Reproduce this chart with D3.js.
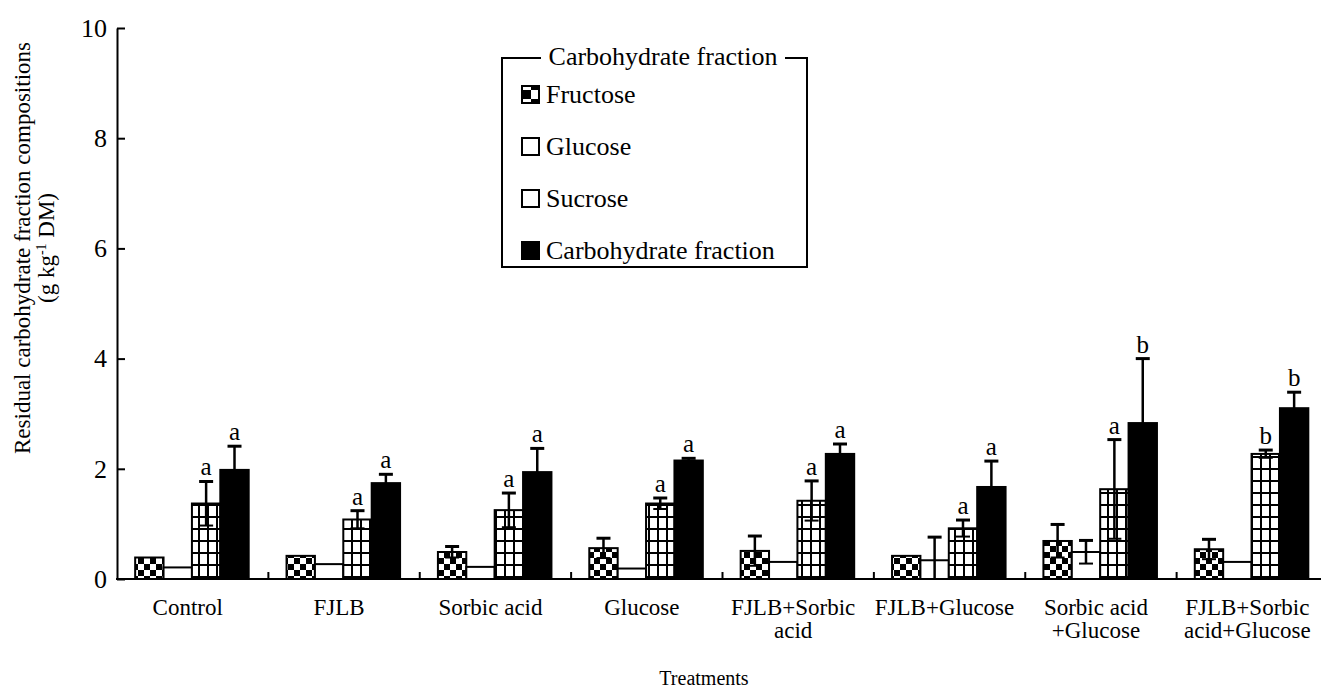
<!DOCTYPE html>
<html>
<head>
<meta charset="utf-8">
<script src="https://cdn.jsdelivr.net/npm/d3@7"></script>
<style>
  body { margin: 0; background: #fff; }
  text { font-family: "Liberation Serif", "Times New Roman", serif; fill: #000; }
</style>
</head>
<body>
<script>
const W = 1321, H = 689;
const plotLeft = 117, plotRight = 1328, plotTop = 28, plotBottom = 579;

// data
const categories = ["Control", "FJLB", "Sorbic acid", "Glucose", "FJLB+Sorbic\nacid",
  "FJLB+Glucose", "Sorbic acid\n+Glucose", "FJLB+Sorbic\nacid+Glucose"];
const seriesNames = ["Fructose", "Glucose", "Sucrose", "Carbohydrate fraction"];
const fructose = [0.39, 0.42, 0.49, 0.56, 0.51, 0.42, 0.69, 0.54];
const fructoseErr = [0, 0, 0.1, 0.18, 0.27, 0, 0.3, 0.18];
const glucose = [0.21, 0.27, 0.22, 0.19, 0.31, 0.34, 0.49, 0.31];
const glucoseErr = [0, 0, 0, 0, 0, 0.42, 0.21, 0];
const sucrose = [1.37, 1.08, 1.25, 1.37, 1.42, 0.92, 1.63, 2.27];
const sucroseErr = [0.4, 0.16, 0.31, 0.1, 0.36, 0.15, 0.9, 0.07];
const carb = [1.98, 1.74, 1.94, 2.15, 2.27, 1.67, 2.83, 3.1];
const carbErr = [0.43, 0.16, 0.43, 0.04, 0.18, 0.47, 1.17, 0.29];
const sucroseLetters = ["a", "a", "a", "a", "a", "a", "a", "b"];
const carbLetters = ["a", "a", "a", "a", "a", "a", "b", "b"];
const yTicks = [0, 2, 4, 6, 8, 10];

const values = [fructose, glucose, sucrose, carb];
const errors = [fructoseErr, glucoseErr, sucroseErr, carbErr];
const letters = [null, null, sucroseLetters, carbLetters];

var svg = d3.select("body").append("svg")
  .attr("width", W).attr("height", H);

// fill patterns
const defs = svg.append("defs");
const chk = defs.append("pattern").attr("id", "checker")
  .attr("patternUnits", "userSpaceOnUse").attr("width", 12).attr("height", 12);
chk.append("rect").attr("width", 12).attr("height", 12).attr("fill", "#fff");
chk.append("rect").attr("width", 6).attr("height", 6).attr("fill", "#000");
chk.append("rect").attr("x", 6).attr("y", 6).attr("width", 6).attr("height", 6).attr("fill", "#000");

const chkSmall = defs.append("pattern").attr("id", "checkerSmall")
  .attr("patternUnits", "userSpaceOnUse").attr("width", 18).attr("height", 18)
  .attr("x", 522).attr("y", 0);
chkSmall.append("rect").attr("width", 18).attr("height", 18).attr("fill", "#fff");
chkSmall.append("rect").attr("width", 9).attr("height", 9).attr("fill", "#000");
chkSmall.append("rect").attr("x", 9).attr("y", 9).attr("width", 9).attr("height", 9).attr("fill", "#000");

const grid = defs.append("pattern").attr("id", "grid")
  .attr("patternUnits", "userSpaceOnUse").attr("width", 9).attr("height", 12);
grid.append("rect").attr("width", 9).attr("height", 12).attr("fill", "#fff");
grid.append("line").attr("x1", 1).attr("x2", 1).attr("y1", 0).attr("y2", 12)
  .attr("stroke", "#000").attr("stroke-width", 2);
grid.append("line").attr("x1", 0).attr("x2", 9).attr("y1", 1).attr("y2", 1)
  .attr("stroke", "#000").attr("stroke-width", 2);

const fills = ["url(#checker)", "#fff", "url(#grid)", "#000"];
const legendFills = ["url(#checkerSmall)", "#fff", "#fff", "#000"];

// scales
let x = d3.scaleBand().domain(categories).range([plotLeft, plotRight]);
let xInner = d3.scaleBand().domain(d3.range(4))
  .range([x.bandwidth() * 0.12, x.bandwidth() * 0.87]);
let y = d3.scaleLinear().domain([0, 10]).range([plotBottom, plotTop]);

// bars
for (let s = 0; s < 4; s++) {
  svg.append("g").selectAll("rect")
    .data(categories)
    .enter()
    .append("rect")
    .attr("x", (d) => x(d) + xInner(s))
    .attr("y", (d, i) => y(values[s][i]))
    .attr("width", xInner.bandwidth())
    .attr("height", (d, i) => y(0) - y(values[s][i]))
    .attr("fill", fills[s])
    .attr("stroke", "#000")
    .attr("stroke-width", 2);
}

// error bars and letters
for (let s = 0; s < 4; s++) {
  const g = svg.append("g");
  categories.forEach(function (c, i) {
    const v = values[s][i], e = errors[s][i];
    const cx = x(c) + xInner(s) + xInner.bandwidth() / 2;
    let topY = y(v + e);
    if (e > 0) {
      const lo = Math.max(0, v - e);
      g.append("line").attr("x1", cx).attr("x2", cx)
        .attr("y1", topY).attr("y2", y(lo))
        .attr("stroke", "#000").attr("stroke-width", 2.5);
      g.append("line").attr("x1", cx - 7).attr("x2", cx + 7)
        .attr("y1", topY).attr("y2", topY)
        .attr("stroke", "#000").attr("stroke-width", 3);
      if (v - e > 0) {
        g.append("line").attr("x1", cx - 7).attr("x2", cx + 7)
          .attr("y1", y(lo)).attr("y2", y(lo))
          .attr("stroke", "#000").attr("stroke-width", 2);
      }
    }
    if (letters[s]) {
      g.append("text").attr("x", cx).attr("y", topY - 6)
        .attr("text-anchor", "middle").style("font-size", "25px")
        .text(letters[s][i]);
    }
  });
}

// y axis
const yAxis = svg.append("g")
  .attr("transform", "translate(" + plotLeft + ",0)")
  .call(d3.axisLeft(y).tickValues(yTicks).tickSizeInner(-8).tickSizeOuter(0).tickPadding(10));
yAxis.select(".domain").attr("stroke-width", 2);
yAxis.selectAll(".tick line").attr("stroke-width", 2);
yAxis.selectAll(".tick text").style("font-size", "26px")
  .style("font-family", "Liberation Serif, serif");

// x axis
svg.append("line").attr("x1", plotLeft - 1).attr("x2", W)
  .attr("y1", plotBottom).attr("y2", plotBottom)
  .attr("stroke", "#000").attr("stroke-width", 2);
svg.append("g").selectAll("line")
  .data(categories.slice(1))
  .enter()
  .append("line")
  .attr("x1", (d) => x(d)).attr("x2", (d) => x(d))
  .attr("y1", plotBottom).attr("y2", plotBottom - 7)
  .attr("stroke", "#000").attr("stroke-width", 2);

const xl = svg.append("g").selectAll("text")
  .data(categories)
  .enter()
  .append("text")
  .attr("text-anchor", "middle")
  .style("font-size", "23px");
xl.each(function (d) {
  const t = d3.select(this);
  d.split("\n").forEach(function (line, k) {
    t.append("tspan").attr("x", x(d) + x.bandwidth() / 2 - 5)
      .attr("y", 615 + k * 23).text(line);
  });
});

svg.append("text").attr("x", 704).attr("y", 685)
  .attr("text-anchor", "middle").style("font-size", "20px")
  .text("Treatments");

// y title
const yt = svg.append("text")
  .attr("transform", "translate(30,248) rotate(-90)")
  .attr("text-anchor", "middle").style("font-size", "23px");
yt.append("tspan").attr("x", 0).attr("y", 0).text("Residual carbohydrate fraction compositions");
const yt2 = svg.append("text")
  .attr("transform", "translate(54,248) rotate(-90)")
  .attr("text-anchor", "middle").style("font-size", "23px");
yt2.append("tspan").text("(g kg");
yt2.append("tspan").attr("dy", -8).style("font-size", "14px").text("-1");
yt2.append("tspan").attr("dy", 8).text(" DM)");

// legend
const lg = svg.append("g");
const lx0 = 502, lx1 = 807, ly0 = 58, ly1 = 267;
lg.append("path")
  .attr("d", "M541," + ly0 + "H" + lx0 + "V" + ly1 + "H" + lx1 + "V" + ly0 + "H785")
  .attr("fill", "none").attr("stroke", "#000").attr("stroke-width", 2);
lg.append("text").attr("x", 663).attr("y", 65).attr("text-anchor", "middle")
  .style("font-size", "26px")
  .text("Carbohydrate fraction");
const legY = d3.scalePoint().domain(seriesNames).range([94, 250]);
seriesNames.forEach(function (n, s) {
  lg.append("rect").attr("x", 522).attr("y", legY(n) - 8)
    .attr("width", 17).attr("height", 17)
    .attr("fill", legendFills[s]).attr("stroke", "#000").attr("stroke-width", 2);
  lg.append("text").attr("x", 546).attr("y", legY(n) + 9)
    .style("font-size", "26px").text(n);
});
</script>
</body>
</html>
